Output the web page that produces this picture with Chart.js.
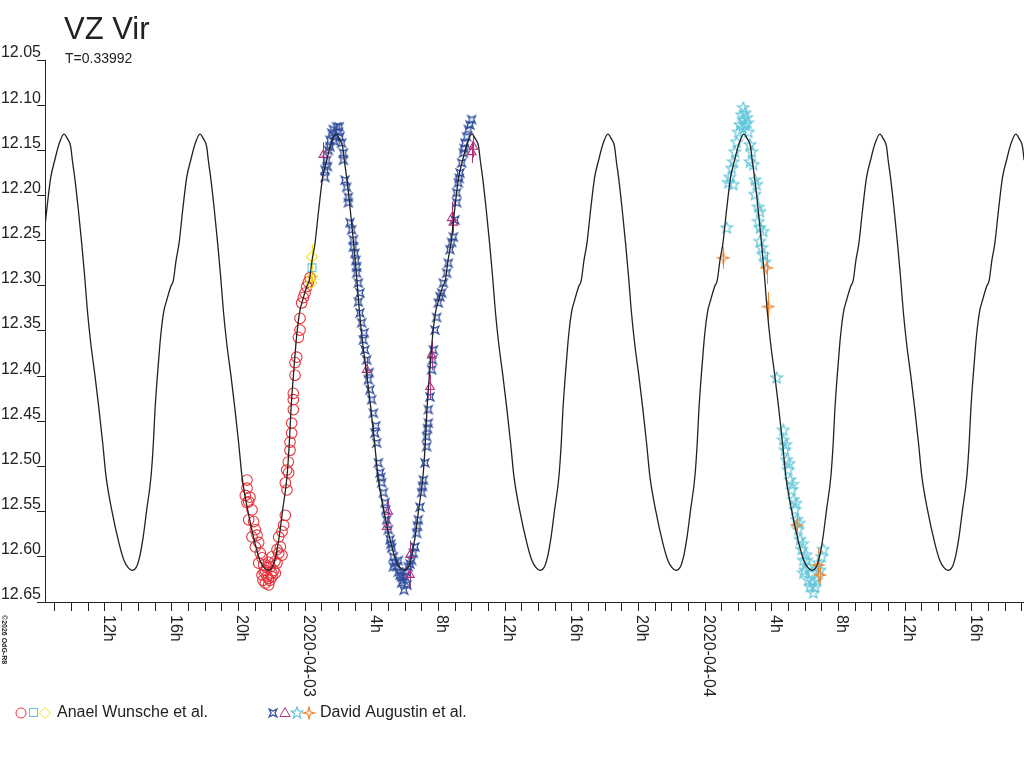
<!DOCTYPE html>
<html>
<head>
<meta charset="utf-8">
<script src="https://cdn.jsdelivr.net/npm/chart.js@4.4.1/dist/chart.umd.min.js"></script>
<style>
  html, body { margin: 0; padding: 0; background: #fff; }
  #wrap { width: 1024px; height: 768px; position: relative; }
</style>
</head>
<body>
<div id="wrap"><canvas id="lc"></canvas></div>
<script>
// hours are counted from 2020-04-03 00:00
const periodDays = 0.33992;
const maxEpochH = -6.30;

// one cycle of the fitted light curve, hours after maximum
const curvePhase = [0, 0.20, 0.40, 0.50, 0.64, 0.86, 1.06, 1.24, 1.40, 1.60, 1.86, 2.10, 2.32, 2.52, 2.86, 3.30, 3.60, 3.85, 4.08, 4.35, 4.56, 4.75, 4.96, 5.22, 5.36, 5.46, 5.60, 5.76, 5.86, 6.00, 6.16, 6.40, 6.56, 6.72, 6.90, 7.12, 7.36, 7.60, 7.86];
const curveMag = [12.132, 12.137, 12.146, 12.161, 12.180, 12.216, 12.253, 12.290, 12.327, 12.363, 12.400, 12.437, 12.474, 12.511, 12.548, 12.585, 12.604, 12.612, 12.615, 12.611, 12.598, 12.578, 12.548, 12.511, 12.474, 12.437, 12.400, 12.363, 12.345, 12.327, 12.316, 12.301, 12.294, 12.272, 12.253, 12.216, 12.180, 12.161, 12.143];

const anaelCircles = [
  [-3.48, 12.515], [-3.48, 12.524], [-3.58, 12.532], [-3.38, 12.539], [-3.48, 12.540], [-3.30, 12.534],
  [-3.18, 12.548], [-3.38, 12.559], [-3.08, 12.561], [-2.98, 12.570], [-3.18, 12.578], [-2.88, 12.576],
  [-2.78, 12.584], [-2.98, 12.589], [-2.68, 12.596], [-2.58, 12.601], [-2.78, 12.607], [-2.48, 12.609],
  [-2.38, 12.615], [-2.18, 12.606], [-1.98, 12.600], [-2.08, 12.611], [-1.88, 12.615], [-2.28, 12.622],
  [-2.58, 12.620], [-1.98, 12.622], [-2.38, 12.629], [-2.18, 12.631], [-2.52, 12.626], [-2.10, 12.626],
  [-1.68, 12.607], [-1.58, 12.596], [-1.48, 12.589], [-1.58, 12.578], [-1.38, 12.572], [-1.28, 12.565],
  [-1.18, 12.554], [-1.08, 12.526], [-1.18, 12.518], [-0.98, 12.507], [-1.68, 12.592], [-1.78, 12.618],
  [-1.38, 12.598], [-1.10, 12.504], [-1.00, 12.495], [-0.90, 12.482], [-0.90, 12.473], [-0.80, 12.463],
  [-0.80, 12.452], [-0.70, 12.437], [-0.70, 12.426], [-0.70, 12.419], [-0.60, 12.399], [-0.60, 12.385],
  [-0.50, 12.379], [-0.40, 12.357], [-0.30, 12.349], [-0.30, 12.336], [-0.20, 12.319], [-0.10, 12.313],
  [0.00, 12.308], [0.10, 12.301], [0.20, 12.296], [0.30, 12.291],
  [-2.30, 12.612], [-2.00, 12.618], [-2.45, 12.617], [-2.20, 12.624], [-1.80, 12.605]
];
const anaelSquares = [[0.42, 12.280, 0.006]];
const anaelDiamonds = [[0.42, 12.268, 0.014], [0.42, 12.290, 0.012], [0.36, 12.297, 0.010]];

const davidCrosses = [
  [1.20, 12.172], [1.20, 12.180], [1.30, 12.161], [1.40, 12.150], [1.50, 12.139], [1.60, 12.131],
  [1.70, 12.127], [1.90, 12.124], [2.00, 12.130], [1.80, 12.135], [2.10, 12.135], [2.20, 12.142],
  [2.30, 12.153], [2.30, 12.161], [1.50, 12.146], [2.40, 12.183], [2.50, 12.191], [2.60, 12.202],
  [2.60, 12.208], [2.70, 12.230], [2.80, 12.238], [2.90, 12.249], [2.90, 12.257], [3.00, 12.264],
  [3.10, 12.279], [3.10, 12.286], [3.20, 12.297], [3.30, 12.308], [3.20, 12.318], [3.30, 12.330],
  [3.40, 12.341], [3.50, 12.360], [3.60, 12.371], [3.70, 12.382], [3.80, 12.404], [3.90, 12.415],
  [4.00, 12.426], [4.10, 12.441], [4.20, 12.463], [4.30, 12.474], [4.40, 12.496], [4.50, 12.507],
  [4.60, 12.518], [4.70, 12.529], [4.80, 12.540], [4.90, 12.559], [5.00, 12.570], [5.10, 12.581],
  [5.20, 12.590], [5.30, 12.600], [5.40, 12.607], [5.50, 12.611], [5.60, 12.617], [5.80, 12.622],
  [5.90, 12.626], [6.00, 12.622], [6.10, 12.617], [6.20, 12.611], [6.40, 12.604], [6.50, 12.596],
  [6.60, 12.589], [6.70, 12.574], [6.80, 12.559], [6.90, 12.545], [7.00, 12.529], [7.10, 12.515],
  [7.20, 12.496], [7.30, 12.478], [7.30, 12.467], [7.40, 12.452], [7.40, 12.437], [7.50, 12.423],
  [7.60, 12.393], [7.70, 12.371], [7.80, 12.349], [7.90, 12.335], [8.00, 12.319], [8.20, 12.308],
  [8.30, 12.297], [8.50, 12.286], [8.60, 12.275], [8.70, 12.260], [8.90, 12.246], [9.00, 12.227],
  [9.10, 12.208], [9.10, 12.197], [9.20, 12.186], [9.30, 12.175], [9.40, 12.164], [9.50, 12.153],
  [9.60, 12.142], [9.70, 12.135], [9.80, 12.127], [10.00, 12.116],
  [5.30, 12.611], [5.80, 12.629], [5.60, 12.604], [6.12, 12.631], [5.94, 12.637],
  [1.75, 12.140], [2.05, 12.124], [1.35, 12.168], [3.05, 12.272], [3.55, 12.352], [3.85, 12.396],
  [4.25, 12.455], [4.55, 12.512], [4.85, 12.548], [5.15, 12.586], [5.70, 12.620], [6.30, 12.608],
  [6.75, 12.566], [7.05, 12.522], [7.35, 12.458], [7.65, 12.382], [8.10, 12.312], [8.80, 12.252],
  [9.25, 12.181], [9.55, 12.148], [9.90, 12.122]
];
const davidTriangles = [
  [1.10, 12.155, 0.014], [3.70, 12.393, 0.014], [4.90, 12.567, 0.012], [5.00, 12.550, 0.014],
  [6.30, 12.598, 0.016], [6.30, 12.620, 0.016], [7.50, 12.412, 0.014], [7.60, 12.377, 0.016],
  [8.80, 12.225, 0.018], [8.90, 12.230, 0.012], [10.00, 12.152, 0.012], [10.10, 12.146, 0.012]
];
const davidStars = [
  [26.20, 12.111], [26.30, 12.116], [26.10, 12.122], [26.40, 12.122], [26.50, 12.114], [26.30, 12.103],
  [26.40, 12.109], [26.00, 12.130], [26.60, 12.130], [25.90, 12.141], [26.70, 12.144], [25.80, 12.152],
  [26.80, 12.152], [25.70, 12.163], [26.70, 12.163], [26.90, 12.166], [25.60, 12.170], [25.50, 12.180],
  [25.40, 12.186], [25.70, 12.188], [27.00, 12.183], [27.10, 12.188], [27.00, 12.199], [27.20, 12.213],
  [27.30, 12.218], [27.20, 12.229], [27.30, 12.236], [27.50, 12.240], [27.30, 12.251], [27.40, 12.258],
  [27.50, 12.266], [27.60, 12.274], [25.30, 12.236], [28.30, 12.402],
  [28.70, 12.460], [28.70, 12.471], [28.80, 12.482], [28.90, 12.493], [29.00, 12.504], [29.10, 12.515],
  [29.20, 12.526], [29.30, 12.537], [29.40, 12.548], [29.50, 12.559], [29.60, 12.570], [29.70, 12.581],
  [29.80, 12.592], [29.90, 12.604], [30.00, 12.615], [30.20, 12.626], [30.30, 12.633], [30.50, 12.640],
  [30.70, 12.626], [30.90, 12.615], [31.00, 12.600], [31.10, 12.592], [30.10, 12.604], [30.40, 12.618],
  [29.90, 12.618], [30.80, 12.607],
  [28.85, 12.476], [29.05, 12.497], [29.25, 12.520], [29.45, 12.541], [29.65, 12.563], [29.85, 12.586],
  [30.05, 12.598], [30.25, 12.612], [30.45, 12.628], [30.60, 12.634], [26.25, 12.126], [26.55, 12.120]
];
const davidSparks = [
  [25.10, 12.269, 0.012], [27.70, 12.280, 0.018], [27.80, 12.323, 0.016],
  [29.50, 12.565, 0.016], [30.80, 12.609, 0.020], [30.90, 12.620, 0.012]
];

const xMinH = -15.6;
const xMaxH = 43.14;
const xLabelHours = [-12, -8, -4, 0, 4, 8, 12, 16, 20, 24, 28, 32, 36, 40];
const xLabelTexts = ['12h', '16h', '20h', '2020-04-03', '4h', '8h', '12h', '16h', '20h', '2020-04-04', '4h', '8h', '12h', '16h'];
const yTicks = [12.05, 12.10, 12.15, 12.20, 12.25, 12.30, 12.35, 12.40, 12.45, 12.50, 12.55, 12.60, 12.65];

const FONT = "'Liberation Sans', Arial, sans-serif";
const INK = '#222';
const RED = '#e8343c', CYAN = '#62c6da', YELLOW = '#f2e41c', BLUE = '#2f4e9e', MAGENTA = '#b8307e', ORANGE = '#f08632';

// lay the fitted cycle out along the time axis
const periodH = periodDays * 24;
const curvePoints = [];
for (let k = -2; k <= 7; k++) {
  const t0 = maxEpochH + k * periodH;
  curvePhase.forEach((p, i) => curvePoints.push({ x: t0 + p, y: curveMag[i] }));
}

const toXY = arr => arr.map(d => ({ x: d[0], y: d[1], err: d[2] || 0 }));

const makeSymbol = (size, color, outer, inner, n, rot, lw) => {
  const c = document.createElement('canvas');
  c.width = size; c.height = size;
  const g = c.getContext('2d');
  g.strokeStyle = color;
  g.lineWidth = lw;
  g.translate(size / 2, size / 2);
  g.beginPath();
  for (let i = 0; i < 2 * n; i++) {
    const r = i % 2 ? inner : outer;
    const a = rot + i * Math.PI / n;
    const px = r * Math.sin(a), py = -r * Math.cos(a);
    if (i === 0) g.moveTo(px, py); else g.lineTo(px, py);
  }
  g.closePath();
  g.stroke();
  return c;
};

const crossImg = makeSymbol(12, BLUE, 5.4, 2.0, 4, Math.PI / 4, 1.3);
const starImg = makeSymbol(14, CYAN, 6.0, 2.6, 5, 0, 1.2);
const sparkImg = makeSymbol(14, ORANGE, 6.0, 1.7, 4, 0, 1.2);

const scatterSet = (label, data, style, color, radius, order) => ({
  type: 'scatter',
  label,
  data: toXY(data),
  pointStyle: style,
  pointRadius: radius,
  pointHoverRadius: radius,
  borderColor: color,
  backgroundColor: 'rgba(0,0,0,0)',
  borderWidth: 1.1,
  order
});

// vertical error bars under the symbols
const errorBars = {
  id: 'errorBars',
  beforeDatasetsDraw(chart) {
    const ctx = chart.ctx;
    const ys = chart.scales.y, xs = chart.scales.x;
    const area = chart.chartArea;
    ctx.save();
    ctx.beginPath();
    ctx.rect(area.left, area.top, area.right - area.left, area.bottom - area.top);
    ctx.clip();
    ctx.lineWidth = 1;
    chart.data.datasets.forEach(ds => {
      if (ds.type !== 'scatter') return;
      ctx.strokeStyle = ds.borderColor;
      ds.data.forEach(p => {
        if (!p.err) return;
        const px = Math.round(xs.getPixelForValue(p.x)) + 0.5;
        ctx.beginPath();
        ctx.moveTo(px, ys.getPixelForValue(p.y - p.err));
        ctx.lineTo(px, ys.getPixelForValue(p.y + p.err));
        ctx.stroke();
      });
    });
    ctx.restore();
  }
};

const drawOverlay = {
  id: 'drawOverlay',
  afterDraw(chart) {
    const ctx = chart.ctx;
    const xs = chart.scales.x;
    ctx.save();
    ctx.fillStyle = INK;
    ctx.textAlign = 'left';
    ctx.textBaseline = 'alphabetic';
    ctx.font = '31px ' + FONT;
    ctx.fillText('VZ Vir', 64, 39);
    ctx.font = '14px ' + FONT;
    ctx.fillText('T=0.33992', 65, 63);

    // x labels, rotated clockwise
    ctx.font = '16px ' + FONT;
    xLabelHours.forEach((h, i) => {
      const px = xs.getPixelForValue(h);
      ctx.save();
      ctx.translate(px - 1, 615);
      ctx.rotate(Math.PI / 2);
      ctx.textBaseline = 'alphabetic';
      ctx.fillText(xLabelTexts[i], 0, 0);
      ctx.restore();
    });

    ctx.save();
    ctx.font = 'bold 7px ' + FONT;
    ctx.translate(2, 615);
    ctx.rotate(Math.PI / 2);
    ctx.fillText('\u00a92026 OdG-R8', 0, 0);
    ctx.restore();

    // legend
    const ly = 713;
    ctx.lineWidth = 1;
    ctx.strokeStyle = RED;
    ctx.beginPath(); ctx.arc(21, ly, 5, 0, Math.PI * 2); ctx.stroke();
    ctx.strokeStyle = CYAN;
    ctx.strokeRect(29.5, ly - 4.5, 8, 8);
    ctx.strokeStyle = YELLOW;
    ctx.beginPath();
    ctx.moveTo(45, ly - 5.5); ctx.lineTo(50.5, ly); ctx.lineTo(45, ly + 5.5); ctx.lineTo(39.5, ly);
    ctx.closePath(); ctx.stroke();
    ctx.fillStyle = INK;
    ctx.font = '16px ' + FONT;
    ctx.textBaseline = 'middle';
    ctx.fillText('Anael Wunsche et al.', 57, ly);

    ctx.drawImage(crossImg, 273 - 6, ly - 6);
    ctx.strokeStyle = MAGENTA;
    ctx.beginPath();
    ctx.moveTo(285, ly - 5.5); ctx.lineTo(290, ly + 3.5); ctx.lineTo(280, ly + 3.5);
    ctx.closePath(); ctx.stroke();
    ctx.drawImage(starImg, 297 - 7, ly - 7);
    ctx.drawImage(sparkImg, 309 - 7, ly - 7);
    ctx.fillText('David Augustin et al.', 320, ly);
    ctx.restore();
  }
};

document.addEventListener('DOMContentLoaded', () => {
  const ctx = document.getElementById('lc').getContext('2d');
  new Chart(ctx, {
    type: 'scatter',
    data: {
      datasets: [
        {
          type: 'line',
          label: 'fit',
          data: curvePoints,
          borderColor: INK,
          borderWidth: 1.3,
          pointRadius: 0,
          fill: false,
          cubicInterpolationMode: 'monotone',
          order: 0
        },
        scatterSet('sparks', davidSparks, sparkImg, ORANGE, 6, 1),
        scatterSet('triangles', davidTriangles, 'triangle', MAGENTA, 5, 2),
        scatterSet('squares', anaelSquares, 'rect', CYAN, 5.5, 3),
        scatterSet('diamonds', anaelDiamonds, 'rectRot', YELLOW, 5.5, 4),
        scatterSet('stars', davidStars, starImg, CYAN, 6, 5),
        scatterSet('circles', anaelCircles, 'circle', RED, 5.3, 6),
        scatterSet('crosses', davidCrosses, crossImg, BLUE, 5, 7)
      ]
    },
    options: {
      responsive: true,
      maintainAspectRatio: false,
      animation: false,
      devicePixelRatio: 1,
      layout: { autoPadding: false, padding: { top: 60, left: 0, right: 0, bottom: 0 } },
      plugins: {
        legend: { display: false },
        tooltip: { enabled: false }
      },
      scales: {
        x: {
          type: 'linear',
          min: xMinH,
          max: xMaxH,
          afterBuildTicks: scale => {
            const t = [];
            for (let h = Math.ceil(xMinH); h <= Math.floor(xMaxH); h++) t.push({ value: h });
            scale.ticks = t;
          },
          afterFit: scale => { scale.height = 166; },
          ticks: { display: false, autoSkip: false },
          grid: { drawOnChartArea: false, drawTicks: true, tickLength: 9, color: INK },
          border: { display: true, color: INK, width: 1 }
        },
        y: {
          type: 'linear',
          reverse: true,
          min: 12.05,
          max: 12.65,
          afterBuildTicks: scale => { scale.ticks = yTicks.map(v => ({ value: v })); },
          afterFit: scale => { scale.width = 45; },
          ticks: {
            autoSkip: false,
            padding: -4,
            labelOffset: -7,
            color: INK,
            font: { family: FONT, size: 16 },
            callback: v => v.toFixed(2)
          },
          grid: { drawOnChartArea: false, drawTicks: true, tickLength: 8, color: INK },
          border: { display: true, color: INK, width: 1 }
        }
      }
    },
    plugins: [errorBars, drawOverlay]
  });
});
</script>
</body>
</html>
